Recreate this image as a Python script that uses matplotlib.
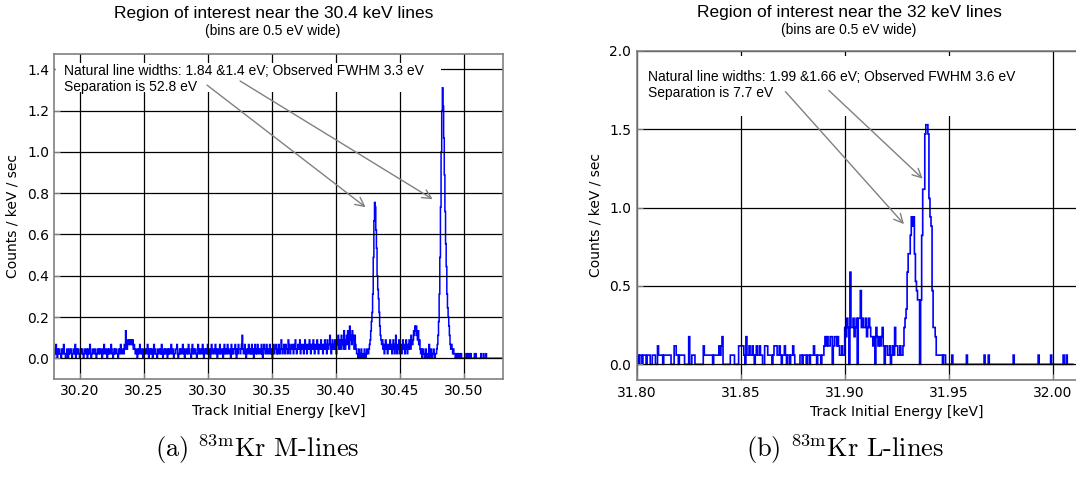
import numpy as np
import matplotlib.pyplot as plt
from matplotlib.patches import Rectangle

plt.rcParams['mathtext.fontset'] = 'cm'

BIN_KEV = 0.0005  # 0.5 eV bins

# M-lines (30.4 keV region): counts per bin, first bin starts at 30.180 keV
m_start = 30.180
m_scale = 1 / 45.0  # one count -> counts / keV / sec
m_counts = [
    2, 1, 3, 1, 0, 2, 1, 2, 1, 1, 0, 2, 2, 1, 3, 1, 1, 0, 1, 2, 2, 0, 1, 2, 1, 1, 2, 0, 1, 1, 2, 1, 3, 0, 2,
    1, 2, 1, 1, 0, 2, 1, 2, 2, 1, 0, 1, 2, 1, 1, 2, 0, 2, 1, 1, 3, 1, 0, 1, 2, 2, 1, 1, 2, 1, 0, 1, 2, 2, 1,
    2, 1, 1, 2, 0, 1, 2, 3, 1, 1, 2, 1, 0, 2, 1, 2, 1, 1, 3, 2, 1, 0, 1, 2, 1, 2, 2, 1, 1, 0, 2, 1, 2, 3, 1,
    1, 2, 2, 1, 3, 2, 6, 3, 2, 4, 3, 4, 4, 3, 4, 4, 3, 4, 2, 3, 2, 1, 2, 1, 0, 2, 1, 2, 3, 1, 1, 2, 1, 0, 2,
    1, 2, 1, 1, 2, 3, 1, 0, 2, 1, 2, 1, 2, 0, 1, 3, 1, 2, 1, 1, 0, 2, 2, 1, 1, 2, 1, 3, 1, 0, 1, 2, 1, 2, 2,
    1, 0, 2, 1, 2, 1, 1, 3, 2, 1, 2, 0, 1, 1, 2, 2, 3, 1, 0, 1, 2, 1, 2, 1, 1, 3, 2, 1, 0, 2, 1, 1, 2, 1, 3,
    2, 1, 1, 0, 2, 3, 1, 2, 1, 2, 2, 1, 0, 1, 3, 2, 1, 2, 1, 1, 2, 3, 1, 0, 2, 1, 2, 2, 1, 3, 1, 2, 1, 0, 2,
    3, 1, 2, 2, 1, 1, 3, 2, 1, 0, 2, 2, 1, 3, 1, 2, 2, 1, 0, 2, 3, 1, 2, 1, 2, 3, 1, 1, 2, 2, 0, 3, 1, 2, 1,
    2, 2, 3, 1, 0, 2, 1, 3, 2, 2, 1, 2, 3, 5, 2, 1, 2, 3, 1, 0, 2, 2, 1, 3, 2, 1, 2, 1, 3, 1, 2, 0, 2, 3, 1,
    2, 1, 3, 2, 1, 2, 2, 1, 3, 1, 0, 2, 3, 2, 1, 2, 3, 1, 2, 2, 1, 3, 2, 1, 2, 0, 2, 3, 1, 2, 2, 3, 1, 2, 1,
    3, 2, 1, 2, 4, 2, 1, 2, 3, 2, 1, 3, 2, 2, 1, 4, 2, 3, 1, 2, 2, 3, 2, 1, 3, 2, 4, 2, 1, 2, 3, 2, 2, 4, 1,
    3, 2, 2, 3, 1, 2, 4, 2, 3, 1, 2, 3, 2, 4, 2, 1, 3, 2, 3, 4, 2, 1, 3, 2, 2, 4, 3, 1, 2, 3, 2, 4, 2, 3, 1,
    2, 3, 4, 2, 3, 1, 4, 2, 3, 3, 5, 2, 1, 3, 4, 2, 3, 2, 4, 3, 1, 4, 3, 5, 2, 3, 4, 2, 5, 3, 4, 2, 6, 3, 2,
    4, 5, 3, 6, 4, 2, 7, 5, 4, 3, 6, 5, 4, 2, 5, 3, 2, 1, 1, 0, 2, 1, 0, 1, 2, 0, 1, 1, 0, 2, 1, 0, 1, 2, 1,
    1, 2, 3, 4, 6, 8, 10, 14, 22, 30, 34, 33, 28, 24, 18, 15, 13, 10, 7, 5, 4, 3, 4, 2, 3, 1, 2, 4, 2, 3, 1, 2, 3, 2, 4,
    2, 3, 1, 2, 4, 3, 1, 2, 5, 2, 1, 3, 2, 4, 1, 2, 3, 1, 2, 4, 2, 3, 1, 2, 4, 2, 1, 3, 2, 4, 3, 2, 5, 4, 3,
    4, 6, 5, 7, 6, 7, 5, 4, 6, 3, 4, 2, 1, 2, 0, 1, 2, 1, 0, 1, 2, 0, 1, 1, 0, 3, 1, 0, 2, 1, 0, 1, 2, 1, 0,
    1, 1, 2, 3, 5, 8, 14, 22, 33, 45, 54, 59, 55, 48, 40, 32, 25, 20, 14, 11, 9, 7, 5, 3, 2, 3, 2, 1, 2, 1, 1, 0, 1, 1, 0,
    1, 0, 1, 1, 0, 1, 0, 0, 0, 0, 0, 0, 0, 1, 0, 1, 0, 0, 1, 0, 1, 0, 0, 0, 0, 0, 1, 0, 1, 0, 0, 0, 0, 0, 0,
    0, 1, 0, 0, 0, 1, 0, 0, 0, 1, 0, 0, 0, 0, 0, 0, 0, 0, 0, 0, 0, 0, 0, 0, 0, 0, 0, 0, 0, 0, 0, 0, 0, 0, 0,
]

# L-lines (32 keV region): counts per bin, first bin starts at 31.800 keV
l_start = 31.800
l_scale = 1 / 17.0
l_counts = [
    1, 1, 0, 1, 1, 0, 1, 1, 1, 0, 1, 1, 1, 0, 0, 1, 1, 1, 0, 0,
    2, 1, 1, 1, 1, 0, 1, 1, 1, 1, 1, 1, 1, 0, 0, 0, 2, 2, 1, 1,
    0, 1, 1, 1, 1, 1, 0, 0, 0, 0, 3, 0, 0, 1, 1, 1, 0, 0, 0, 0,
    0, 0, 0, 0, 2, 1, 1, 1, 1, 1, 1, 1, 1, 0, 1, 1, 1, 1, 1, 2,
    1, 2, 3, 0, 0, 0, 0, 0, 0, 0, 1, 1, 1, 1, 0, 0, 0, 0, 2, 2,
    2, 2, 2, 1, 0, 3, 1, 1, 2, 1, 1, 2, 1, 0, 1, 2, 1, 1, 2, 1,
    1, 0, 0, 2, 2, 2, 1, 1, 1, 1, 0, 1, 2, 2, 2, 1, 1, 2, 1, 0,
    1, 1, 2, 1, 0, 1, 1, 0, 1, 1, 2, 1, 0, 0, 0, 0, 0, 1, 1, 0,
    1, 1, 1, 0, 1, 1, 0, 1, 1, 1, 2, 1, 1, 0, 1, 1, 1, 0, 1, 1,
    2, 3, 2, 3, 2, 2, 3, 3, 0, 2, 3, 3, 2, 3, 2, 1, 1, 2, 1, 1,
    4, 3, 5, 4, 0, 10, 4, 4, 5, 3, 4, 5, 0, 5, 5, 8, 4, 5, 4, 4,
    5, 3, 4, 5, 4, 3, 3, 2, 3, 0, 4, 3, 2, 3, 2, 3, 4, 2, 0, 2,
    2, 1, 1, 2, 0, 1, 2, 1, 4, 2, 2, 1, 1, 2, 1, 1, 2, 4, 5, 6,
    10, 12, 12, 14, 16, 15, 16, 12, 9, 8, 7, 7, 0, 7, 14, 19, 19, 25, 26, 26,
    25, 18, 16, 15, 8, 4, 4, 3, 1, 1, 1, 1, 1, 1, 0, 1, 1, 0, 0, 0,
    0, 0, 0, 1, 0, 0, 0, 0, 0, 0, 0, 0, 0, 0, 0, 0, 0, 1, 0, 0,
    0, 0, 0, 0, 0, 0, 0, 0, 0, 0, 0, 0, 0, 0, 1, 0, 0, 0, 1, 0,
    0, 0, 0, 0, 0, 0, 0, 0, 0, 0, 0, 0, 0, 0, 0, 0, 0, 0, 0, 0,
    0, 0, 1, 0, 0, 0, 0, 0, 0, 0, 0, 0, 0, 0, 0, 0, 0, 0, 0, 0,
    0, 0, 0, 0, 0, 0, 1, 0, 0, 0, 0, 0, 0, 0, 0, 0, 0, 0, 1, 0,
    0, 0, 0, 0, 0, 0, 0, 0, 0, 0, 1, 0, 0, 1, 0, 0, 0, 0, 0, 0,
]

m_title = 'Region of interest near the 30.4 keV lines'
l_title = 'Region of interest near the 32 keV lines'
subtitle = '(bins are 0.5 eV wide)'
m_note = 'Natural line widths: 1.84 &1.4 eV; Observed FWHM 3.3 eV\nSeparation is 52.8 eV'
l_note = 'Natural line widths: 1.99 &1.66 eV; Observed FWHM 3.6 eV\nSeparation is 7.7 eV'
m_caption = r'(a) $^{\mathrm{83m}}$Kr M-lines'
l_caption = r'(b) $^{\mathrm{83m}}$Kr L-lines'

m_xticks = [30.20, 30.25, 30.30, 30.35, 30.40, 30.45, 30.50]
m_yticks = [0.0, 0.2, 0.4, 0.6, 0.8, 1.0, 1.2, 1.4]
l_xticks = [31.80, 31.85, 31.90, 31.95, 32.00]
l_yticks = [0.0, 0.5, 1.0, 1.5, 2.0]

# arrows: (tail, tip) in data units
m_arrows = [((30.2992, 1.324), (30.4231, 0.732)), ((30.3250, 1.344), (30.4755, 0.771))]
l_arrows = [((31.8715, 1.741), (31.9285, 0.895)), ((31.8924, 1.748), (31.9375, 1.185))]

SANS = ['Liberation Sans', 'DejaVu Sans']


def draw_panel(ax, start, counts, scale, xlim, ylim, xticks, yticks,
               note, note_xy, arrows, box, lw):
    edges = start + BIN_KEV * np.arange(len(counts) + 1)
    ax.stairs(np.array(counts) * scale, edges, color='#0000ff', lw=lw, snap=False)
    ax.set_xlim(*xlim)
    ax.set_ylim(*ylim)
    ax.set_xticks(xticks)
    ax.set_yticks(yticks)
    ax.xaxis.set_major_formatter('{x:.2f}')
    ax.yaxis.set_major_formatter('{x:.1f}')
    ax.grid(True, color='k', lw=0.9)
    ax.tick_params(direction='in', length=4, color='0.5', labelsize=10, pad=4)
    for sp in ax.spines.values():
        sp.set_color('0.5')
        sp.set_linewidth(1.2)
        sp.set_zorder(4)
    ax.set_xlabel('Track Initial Energy [keV]', fontsize=10, labelpad=4)
    ax.set_ylabel('Counts / keV / sec', fontsize=10, labelpad=5)

    # white background behind the note
    ax.add_patch(Rectangle((box[0], box[1]), box[2] - box[0], box[3] - box[1],
                           transform=ax.transAxes, fc='white', ec='none', zorder=1.8))
    ax.text(note_xy[0], note_xy[1], note, family=SANS, fontsize=10,
            ha='left', va='top', zorder=3)
    for tail, tip in arrows:
        ax.annotate('', xy=tip, xytext=tail,
                    arrowprops=dict(arrowstyle='->', color='0.5', lw=1.0,
                                    shrinkA=0, shrinkB=0, mutation_scale=16))


fig = plt.figure(figsize=(10.76, 4.79), dpi=100)
ax_m = fig.add_axes([0.05065, 0.20898, 0.41636, 0.67829])
ax_l = fig.add_axes([0.59173, 0.20668, 0.48327, 0.68685])

draw_panel(ax_m, m_start, m_counts, m_scale, (30.18, 30.53), (-0.1, 1.475),
           m_xticks, m_yticks, m_note, (30.1875, 1.427), m_arrows,
           (0.004, 0.883, 0.8627, 0.9738), 1.1)
draw_panel(ax_l, l_start, l_counts, l_scale, (31.80, 32.05), (-0.1, 2.0),
           l_xticks, l_yticks, l_note, (31.8054, 1.879), l_arrows,
           (0.004, 0.8024, 0.739, 0.9848), 1.2)

# titles
fig.text(274 / 1076, 1 - 13.5 / 479, m_title, family=SANS, fontsize=12.5, ha='center', va='center')
fig.text(273 / 1076, 1 - 31 / 479, subtitle, family=SANS, fontsize=10, ha='center', va='center')
fig.text(849 / 1076, 1 - 12 / 479, l_title, family=SANS, fontsize=12.5, ha='center', va='center')
fig.text(849 / 1076, 1 - 30 / 479, subtitle, family=SANS, fontsize=10, ha='center', va='center')

# sub-figure captions
fig.text(257 / 1076, 1 - 449 / 479, m_caption, family='cmr10', fontsize=19, ha='center', va='center')
fig.text(845 / 1076, 1 - 449 / 479, l_caption, family='cmr10', fontsize=19, ha='center', va='center')

fig.savefig('out.png', dpi=100)
